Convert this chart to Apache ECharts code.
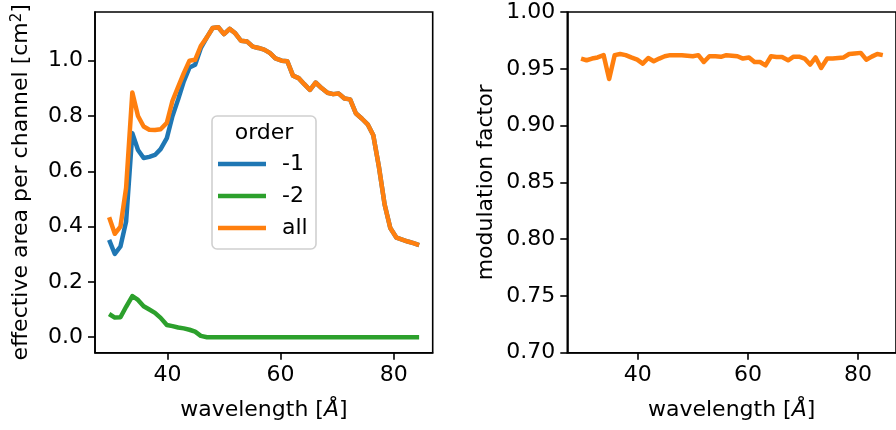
<!DOCTYPE html>
<html>
<head>
<meta charset="utf-8">
<script src="https://cdn.jsdelivr.net/npm/echarts@6/dist/echarts.min.js"></script>
<style>
  html, body { margin: 0; padding: 0; background: #fff; overflow: hidden; }
  #chart { width: 896px; height: 430px; }
</style>
</head>
<body>
<div id="chart"></div>
<script>
  // wavelength grid [Angstrom]
  var wavelength = [29.7, 30.7, 31.7, 32.7, 33.8, 34.8, 35.8, 36.8, 37.8, 38.8,
    39.9, 40.9, 41.9, 42.9, 43.9, 44.9, 45.9, 47.0, 48.0, 49.0,
    50.0, 51.0, 52.0, 53.0, 54.1, 55.1, 56.1, 57.1, 58.1, 59.1,
    60.2, 61.2, 62.2, 63.2, 64.2, 65.2, 66.2, 67.3, 68.3, 69.3,
    70.3, 71.3, 72.3, 73.3, 74.4, 75.4, 76.4, 77.4, 78.4, 79.4,
    80.5, 81.5, 82.5, 83.5, 84.5];

  // effective area, order -1
  var areaOrder1 = [0.352, 0.301, 0.328, 0.418, 0.738, 0.677, 0.648, 0.652, 0.659, 0.68,
    0.72, 0.80, 0.86, 0.925, 0.975, 0.985, 1.045, 1.085, 1.118, 1.121,
    1.096, 1.115, 1.099, 1.072, 1.069, 1.051, 1.046, 1.04, 1.028, 1.008,
    1.0, 0.998, 0.946, 0.937, 0.915, 0.894, 0.921, 0.90, 0.884, 0.879,
    0.881, 0.863, 0.860, 0.81, 0.79, 0.77, 0.73, 0.615, 0.48, 0.395,
    0.36, 0.353, 0.346, 0.34, 0.333];

  // effective area, order -2
  var areaOrder2 = [0.084, 0.071, 0.072, 0.11, 0.149, 0.135, 0.112, 0.10, 0.088, 0.07,
    0.044, 0.040, 0.035, 0.032, 0.027, 0.02, 0.005, 0, 0, 0,
    0, 0, 0, 0, 0, 0, 0, 0, 0, 0,
    0, 0, 0, 0, 0, 0, 0, 0, 0, 0,
    0, 0, 0, 0, 0, 0, 0, 0, 0, 0,
    0, 0, 0, 0, 0];

  // effective area, all orders
  var areaAll = [0.434, 0.374, 0.40, 0.54, 0.885, 0.80, 0.762, 0.75, 0.749, 0.752,
    0.775, 0.855, 0.905, 0.955, 1.0, 1.003, 1.053, 1.085, 1.118, 1.121,
    1.096, 1.115, 1.099, 1.072, 1.069, 1.051, 1.046, 1.04, 1.028, 1.008,
    1.0, 0.998, 0.946, 0.937, 0.915, 0.894, 0.921, 0.90, 0.884, 0.879,
    0.881, 0.863, 0.860, 0.81, 0.79, 0.77, 0.73, 0.615, 0.48, 0.395,
    0.36, 0.353, 0.346, 0.34, 0.333];

  // modulation factor
  var modulation = [0.959, 0.9575, 0.959, 0.960, 0.962, 0.941, 0.962, 0.963, 0.962, 0.960,
    0.958, 0.9545, 0.9595, 0.9566, 0.959, 0.961, 0.962, 0.962, 0.962, 0.9615,
    0.961, 0.962, 0.956, 0.961, 0.961, 0.9605, 0.962, 0.9615, 0.961, 0.959,
    0.960, 0.956, 0.956, 0.953, 0.961, 0.9604, 0.9604, 0.9575, 0.9607, 0.9607,
    0.959, 0.9537, 0.960, 0.9507, 0.959, 0.959, 0.9595, 0.960, 0.963, 0.9635,
    0.964, 0.958, 0.9607, 0.963, 0.962];

  var xTicks = [40, 60, 80];
  var areaTicks = [0, 0.2, 0.4, 0.6, 0.8, 1.0];
  var modTicks = [0.70, 0.75, 0.80, 0.85, 0.90, 0.95, 1.00];

  var FONT = "DejaVu Sans";
  var FS = 22;
  var C_BLUE = "#1f77b4", C_GREEN = "#2ca02c", C_ORANGE = "#ff7f0e";

  function pairs(xs, ys) {
    var out = [];
    for (var i = 0; i < xs.length; i++) out.push([xs[i], ys[i]]);
    return out;
  }

  function xAxisCfg(idx) {
    return {
      type: "value",
      gridIndex: idx,
      min: 27.2,
      max: 86.9,
      name: "wavelength [{i|Å}]",
      nameLocation: "middle",
      nameGap: 47,
      nameTextStyle: {
        fontFamily: FONT, fontSize: FS, color: "#000",
        rich: { i: { fontFamily: FONT, fontSize: FS, fontStyle: "italic", color: "#000" } }
      },
      axisLine: { show: true, onZero: false, lineStyle: { color: "#000", width: 1.6 } },
      axisTick: { show: true, length: 7, lineStyle: { color: "#000", width: 1.6 }, customValues: xTicks },
      axisLabel: { fontFamily: FONT, fontSize: FS, color: "#000", margin: 12, customValues: xTicks },
      splitLine: { show: false }
    };
  }

  function lineSeries(name, color, data, xi, yi) {
    return {
      name: name,
      type: "line",
      xAxisIndex: xi,
      yAxisIndex: yi,
      data: data,
      showSymbol: false,
      symbol: "none",
      lineStyle: { color: color, width: 4.5, join: "round" },
      itemStyle: { color: color },
      animation: false
    };
  }

  var chart = echarts.init(document.getElementById("chart"), null, { renderer: "canvas" });

  chart.setOption({
    animation: false,
    backgroundColor: "#fff",
    textStyle: { fontFamily: FONT },
    grid: [
      { left: 95, top: 12, right: 463.3, bottom: 77.3, show: true, borderColor: "#000", borderWidth: 1.6, containLabel: false },
      { left: 567.3, top: 12, right: -9, bottom: 77.3, show: true, borderColor: "#000", borderWidth: 1.6, containLabel: false }
    ],
    xAxis: [xAxisCfg(0), xAxisCfg(1)],
    yAxis: [
      {
        type: "value",
        gridIndex: 0,
        min: -0.056,
        max: 1.176,
        name: "effective area per channel [cm{sup|2}]",
        nameLocation: "middle",
        nameGap: 63,
        nameTextStyle: {
          fontFamily: FONT, fontSize: FS, color: "#000",
          rich: { sup: { fontFamily: FONT, fontSize: 15, color: "#000", verticalAlign: "top", padding: [0, 0, 7, 0] } }
        },
        axisLine: { show: true, onZero: false, lineStyle: { color: "#000", width: 1.6 } },
        axisTick: { show: true, length: 7, lineStyle: { color: "#000", width: 1.6 }, customValues: areaTicks },
        axisLabel: {
          fontFamily: FONT, fontSize: FS, color: "#000", margin: 12, customValues: areaTicks,
          formatter: function (v) { return v.toFixed(1); }
        },
        splitLine: { show: false }
      },
      {
        type: "value",
        gridIndex: 1,
        min: 0.7,
        max: 1.0,
        name: "modulation factor",
        nameLocation: "middle",
        nameGap: 70,
        nameTextStyle: { fontFamily: FONT, fontSize: FS, color: "#000" },
        axisLine: { show: true, onZero: false, lineStyle: { color: "#000", width: 1.6 } },
        axisTick: { show: true, length: 7, lineStyle: { color: "#000", width: 1.6 }, customValues: modTicks },
        axisLabel: {
          fontFamily: FONT, fontSize: FS, color: "#000", margin: 12, customValues: modTicks,
          formatter: function (v) { return v.toFixed(2); }
        },
        splitLine: { show: false }
      }
    ],
    legend: {
      data: ["-1", "-2", "all"],
      orient: "vertical",
      left: 218,
      top: 153,
      padding: 0,
      itemGap: 10,
      itemWidth: 48,
      itemHeight: 4.5,
      icon: "rect",
      selectedMode: false,
      textStyle: { fontFamily: FONT, fontSize: FS, color: "#000", padding: [0, 0, 0, 11] }
    },
    graphic: [
      {
        type: "rect",
        z: 0,
        shape: { x: 212, y: 116, width: 104, height: 133, r: 5 },
        style: { fill: "rgba(255,255,255,0.8)", stroke: "#d0d0d0", lineWidth: 1.6 }
      },
      {
        type: "text",
        z: 1,
        style: {
          x: 264, y: 133, text: "order", align: "center", verticalAlign: "middle",
          font: FS + "px 'DejaVu Sans'", fill: "#000"
        }
      }
    ],
    series: [
      lineSeries("-1", C_BLUE, pairs(wavelength, areaOrder1), 0, 0),
      lineSeries("-2", C_GREEN, pairs(wavelength, areaOrder2), 0, 0),
      lineSeries("all", C_ORANGE, pairs(wavelength, areaAll), 0, 0),
      lineSeries("modulation", C_ORANGE, pairs(wavelength, modulation), 1, 1)
    ]
  });
</script>
</body>
</html>
